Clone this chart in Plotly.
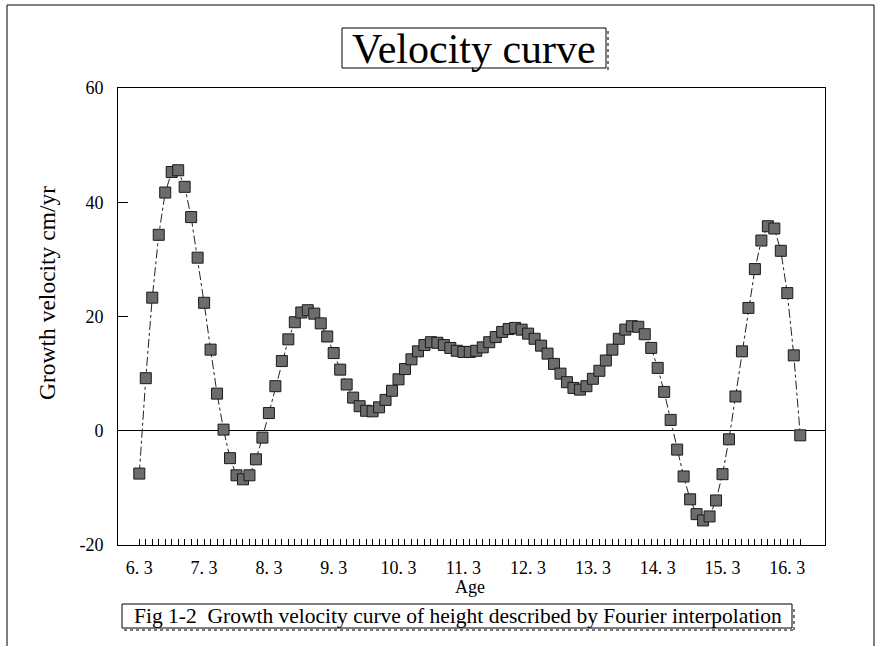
import plotly.graph_objects as go

# ---- data ----
age_start = 6.3
age_step = 0.1
velocity = [-7.5, 9.2, 23.3, 34.3, 41.7, 45.3, 45.6, 42.7, 37.4, 30.3,
            22.4, 14.2, 6.5, 0.2, -4.8, -7.8, -8.5, -7.8, -5.0, -1.2,
            3.1, 7.8, 12.2, 16.0, 19.0, 20.7, 21.1, 20.5, 18.8, 16.5,
            13.6, 10.7, 8.1, 5.8, 4.3, 3.5, 3.4, 4.1, 5.4, 7.0,
            9.0, 10.8, 12.5, 13.9, 15.0, 15.5, 15.4, 15.0, 14.5, 14.0,
            13.8, 13.8, 14.0, 14.6, 15.5, 16.4, 17.3, 17.8, 18.0, 17.7,
            17.0, 16.1, 14.9, 13.5, 11.7, 10.0, 8.5, 7.5, 7.2, 7.8,
            9.1, 10.5, 12.3, 14.2, 16.1, 17.7, 18.3, 18.2, 16.9, 14.5,
            11.0, 6.8, 1.9, -3.3, -8.0, -12.0, -14.6, -15.7, -15.0, -12.2,
            -7.6, -1.5, 6.0, 13.9, 21.5, 28.3, 33.3, 35.8, 35.4, 31.5,
            24.1, 13.2, -0.8]
ages = [round(age_start + age_step * i, 1) for i in range(len(velocity))]
age_labels = ["6. 3", "7. 3", "8. 3", "9. 3", "10. 3", "11. 3", "12. 3",
              "13. 3", "14. 3", "15. 3", "16. 3"]
y_ticks = [-20, 0, 20, 40, 60]
y_tick_labels = ["-20", "0", "20", "40", "60"]

title_text = "Velocity curve"
caption_text = "Fig 1-2  Growth velocity curve of height described by Fourier interpolation"
x_title = "Age"
y_title = "Growth velocity cm/yr"

# ---- layout geometry ----
W, H = 881, 647
L, R, T, B = 118, 825, 88, 545
FONT = "Liberation Serif"


def px(xp):
    return (xp - L) / (R - L)


def py(yp):
    return (B - yp) / (B - T)


tickvals = ages
ticktext = []
li = 0
for i, a in enumerate(ages):
    if i % 10 == 0 and li < len(age_labels):
        ticktext.append(age_labels[li])
        li += 1
    else:
        ticktext.append("")

fig = go.Figure()
fig.add_trace(go.Scatter(
    x=ages, y=velocity, mode="lines+markers",
    line=dict(color="#222222", width=1, dash="dashdot"),
    marker=dict(symbol="square", size=11, color="#6c6c6c",
                line=dict(color="#1a1a1a", width=1)),
    showlegend=False, hoverinfo="skip"))

fig.update_layout(
    width=W, height=H,
    margin=dict(l=L, r=W - R, t=T, b=H - B, pad=0),
    paper_bgcolor="white", plot_bgcolor="white",
    font=dict(family=FONT, color="black"),
    xaxis=dict(range=[6.3 - (139.3 - L) / 64.8, 6.3 + (R - 139.3) / 64.8],
               tickmode="array", tickvals=tickvals, ticktext=ticktext,
               ticks="inside", ticklen=6, tickwidth=1, tickcolor="black",
               ticklabelstandoff=6,
               tickfont=dict(family=FONT, size=18, color="black"),
               showgrid=False, zeroline=False,
               showline=True, linecolor="black", linewidth=1, mirror=True),
    yaxis=dict(range=[-20, 60], tickmode="array", tickvals=y_ticks,
               ticktext=y_tick_labels,
               ticks="inside", ticklen=10, tickwidth=1, tickcolor="black",
               ticklabelstandoff=10,
               tickfont=dict(family=FONT, size=18, color="black"),
               showgrid=False, zeroline=True, zerolinecolor="black",
               zerolinewidth=1,
               showline=True, linecolor="black", linewidth=1, mirror=True),
)

shapes = []
# outer frame (top, left, right)
shapes.append(dict(type="line", xref="paper", yref="paper",
                   x0=px(7), x1=px(874), y0=py(5), y1=py(5),
                   line=dict(color="black", width=1)))
shapes.append(dict(type="line", xref="paper", yref="paper",
                   x0=px(7), x1=px(7), y0=py(5), y1=py(646),
                   line=dict(color="black", width=1)))
shapes.append(dict(type="line", xref="paper", yref="paper",
                   x0=px(874), x1=px(874), y0=py(5), y1=py(646),
                   line=dict(color="black", width=1)))
# title box
shapes.append(dict(type="rect", xref="paper", yref="paper",
                   x0=px(342), x1=px(606), y0=py(68), y1=py(28),
                   line=dict(color="black", width=1)))
shapes.append(dict(type="line", xref="paper", yref="paper",
                   x0=px(608), x1=px(608), y0=py(70), y1=py(30),
                   line=dict(color="#777777", width=2, dash="dot")))
# caption box
shapes.append(dict(type="rect", xref="paper", yref="paper",
                   x0=px(122), x1=px(792), y0=py(628), y1=py(604),
                   line=dict(color="black", width=1)))
shapes.append(dict(type="line", xref="paper", yref="paper",
                   x0=px(794), x1=px(794), y0=py(630), y1=py(606),
                   line=dict(color="#777777", width=2, dash="dot")))
shapes.append(dict(type="line", xref="paper", yref="paper",
                   x0=px(124), x1=px(794), y0=py(630), y1=py(630),
                   line=dict(color="#777777", width=2, dash="dot")))
fig.update_layout(shapes=shapes)

annos = [
    dict(text=title_text, x=px(474), y=py(49), font=dict(size=42)),
    dict(text=caption_text, x=px(458), y=py(616), font=dict(size=21.5)),
    dict(text=x_title, x=px(470), y=py(587), font=dict(size=18)),
    dict(text=y_title, x=px(47), y=py(293), font=dict(size=23.5), textangle=-90),
]
for a in annos:
    a.update(xref="paper", yref="paper", showarrow=False,
             xanchor="center", yanchor="middle")
    a["font"].update(family=FONT, color="black")
fig.update_layout(annotations=annos)

fig.write_html("out.html", post_script="document.body.style.margin='0';",
               config={"displayModeBar": False, "staticPlot": True})
